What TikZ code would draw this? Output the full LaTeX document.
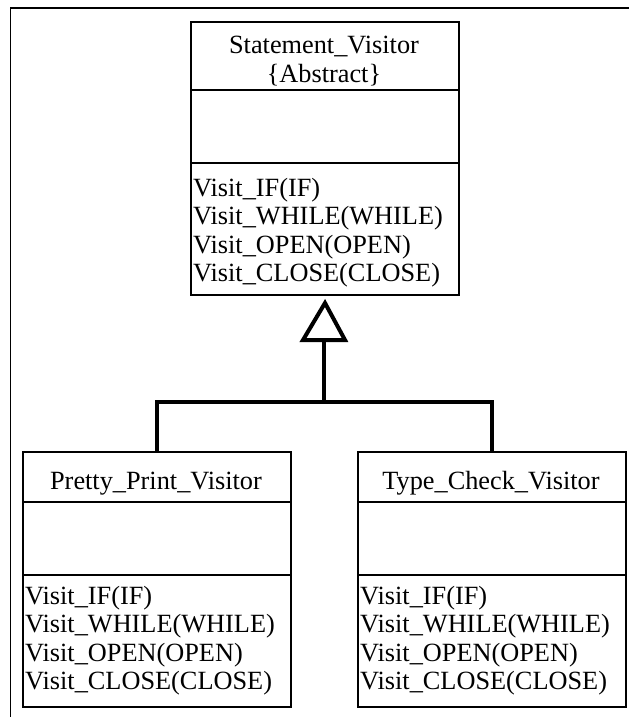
\documentclass[tikz,border=0pt]{standalone}
\usepackage{fontspec}
\setmainfont{Liberation Serif}
\begin{document}
\begin{tikzpicture}[x=1pt,y=-1pt,
  classbox/.style={draw, line width=2pt, inner sep=0pt, anchor=north west, minimum width=268pt},
  divider/.style={line width=2pt},
  txt/.style={font=\fontsize{26.3}{29}\selectfont, inner sep=0pt},
  conn/.style={line width=3.5pt},
  frameline/.style={line width=1.5pt}
]
\useasboundingbox (0,0) rectangle (629,717);
% outer frame (top and left sides visible)
\draw[frameline] (10.5,717) -- (10.5,8) -- (629,8);

% ---- Statement_Visitor ----
\node[classbox, minimum height=273pt] (sv) at (190,21) {};
\draw[divider] ([yshift=-69pt]sv.north west) -- ([yshift=-69pt]sv.north east);
\draw[divider] ([yshift=-142pt]sv.north west) -- ([yshift=-142pt]sv.north east);
\node[txt, anchor=base] (svn) at (324,53) {Statement\_Visitor};
\node[txt, anchor=base] (sva) at (324,82) {\{Abstract\}};
\node[txt, anchor=base west] (sv1) at (193,196) {Visit\_IF(IF)};
\node[txt, anchor=base west] (sv2) at (193,224.5) {Visit\_WHILE(WHILE)};
\node[txt, anchor=base west] (sv3) at (193,253) {Visit\_OPEN(OPEN)};
\node[txt, anchor=base west] (sv4) at (193,281.5) {Visit\_CLOSE(CLOSE)};

% ---- Pretty_Print_Visitor ----
\node[classbox, minimum height=255pt] (pp) at (22,451) {};
\draw[divider] ([yshift=-51pt]pp.north west) -- ([yshift=-51pt]pp.north east);
\draw[divider] ([yshift=-124pt]pp.north west) -- ([yshift=-124pt]pp.north east);
\node[txt, anchor=base] (ppn) at (156,489) {Pretty\_Print\_Visitor};
\node[txt, anchor=base west] (pp1) at (25,604) {Visit\_IF(IF)};
\node[txt, anchor=base west] (pp2) at (25,632.5) {Visit\_WHILE(WHILE)};
\node[txt, anchor=base west] (pp3) at (25,661) {Visit\_OPEN(OPEN)};
\node[txt, anchor=base west] (pp4) at (25,689.5) {Visit\_CLOSE(CLOSE)};

% ---- Type_Check_Visitor ----
\node[classbox, minimum height=255pt] (tc) at (357,451) {};
\draw[divider] ([yshift=-51pt]tc.north west) -- ([yshift=-51pt]tc.north east);
\draw[divider] ([yshift=-124pt]tc.north west) -- ([yshift=-124pt]tc.north east);
\node[txt, anchor=base] (tcn) at (491,489) {Type\_Check\_Visitor};
\node[txt, anchor=base west] (tc1) at (360,604) {Visit\_IF(IF)};
\node[txt, anchor=base west] (tc2) at (360,632.5) {Visit\_WHILE(WHILE)};
\node[txt, anchor=base west] (tc3) at (360,661) {Visit\_OPEN(OPEN)};
\node[txt, anchor=base west] (tc4) at (360,689.5) {Visit\_CLOSE(CLOSE)};

% ---- generalization ----
\coordinate (apex) at ([yshift=-7pt]sv.south);
\coordinate (tribase) at (324,340);
\coordinate (join) at (324,402);
\draw[line width=4pt, line join=miter] (apex) -- (303,340) -- (345,340) -- cycle;
\draw[conn] (tribase) -- (join);
\draw[conn] (pp.north) |- (join) -| (tc.north);
\end{tikzpicture}
\end{document}
